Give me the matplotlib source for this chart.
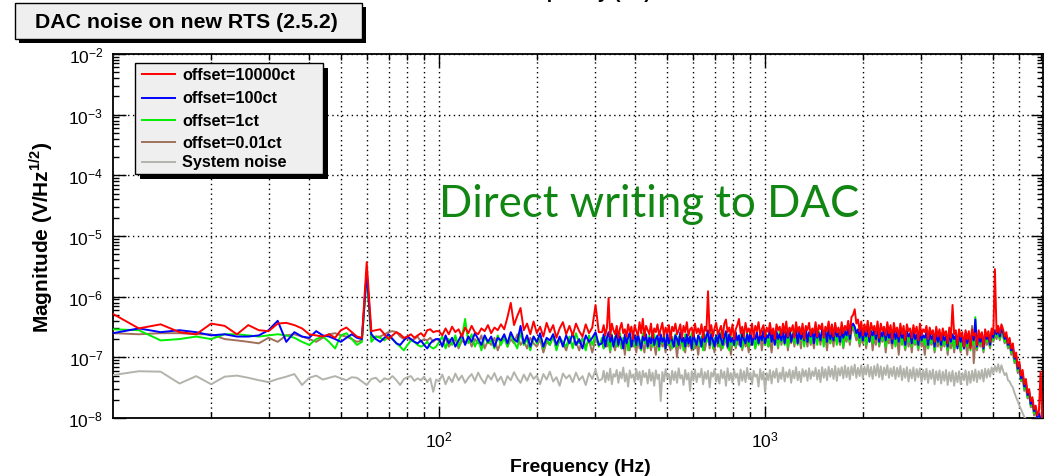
import numpy as np
import matplotlib
matplotlib.use('Agg')
import matplotlib.pyplot as plt
from matplotlib.patches import Rectangle
from matplotlib.lines import Line2D
from matplotlib.ticker import LogLocator, NullFormatter, FixedLocator

plt.rcParams['font.family'] = ['Liberation Sans', 'DejaVu Sans']
plt.rcParams['mathtext.fontset'] = 'custom'
plt.rcParams['mathtext.rm'] = 'Liberation Sans'
plt.rcParams['mathtext.bf'] = 'Liberation Sans:bold'
plt.rcParams['axes.unicode_minus'] = False

# frequency bins: 2 Hz below 100 Hz, 0.01 decade to ~310 Hz, 0.005 decade up to ~7 kHz
freq_low = np.arange(10, 100, 2)
freq_mid = np.logspace(2, 2.49, 50)
freq_high = np.logspace(2.5, 3.85, 271)
freq = np.concatenate([freq_low, freq_mid, freq_high])

# magnitudes (colored traces in 1e-7 V/rtHz, system noise in 1e-8)
red_low = [5.2, 3.0, 3.5, 2.6, 2.4, 3.6, 3.3, 2.4, 3.4, 2.8, 2.7, 3.6, 3.7, 3.4, 3.0,
           2.4, 2.3, 2.2, 2.4, 2.1, 2.8, 3.1, 2.6, 2.2, 2.1, 37, 2.7, 2.8, 2.9, 2.4,
           2.0, 2.3, 2.6, 2.4, 2.1, 2.2, 2.4, 2.1, 2.3, 2.5, 2.2, 2.8, 2.9, 2.6, 2.7]
red_mid = [2.7, 2.3, 3.0, 2.4, 3.2, 2.6, 2.9, 2.2, 3.1, 2.5,
           3.3, 2.6, 2.4, 3.0, 2.7, 3.4, 2.5, 3.1, 2.8, 3.5,
           2.9, 4.6, 7.9, 3.4, 4.8, 6.5, 2.8, 3.6, 2.4, 3.9,
           2.5, 3.2, 2.2, 3.7, 2.6, 3.4, 2.1, 3.0, 3.8, 2.4,
           3.3, 2.3, 3.6, 2.7, 2.2, 3.5, 2.5, 3.1, 7.3, 2.6]
red_high = [2.6, 3.4, 2.3, 3.1, 9.5, 2.2, 3.6, 2.8, 2.4, 3.3,
            2.1, 3.0, 3.7, 2.5, 2.9, 2.2, 3.5, 2.6, 3.2, 2.0,
            3.4, 2.7, 2.3, 3.8, 2.5, 4.3, 2.2, 3.3, 2.8, 2.4,
            3.6, 2.1, 3.0, 2.6, 3.5, 2.3, 2.9, 3.7, 2.2, 3.1,
            2.5, 3.4, 2.0, 3.2, 2.7, 3.6, 2.4, 2.8, 3.5, 2.1,
            3.3, 2.6, 3.8, 2.3, 2.9, 3.1, 2.2, 3.6, 2.5, 3.0,
            2.4, 3.5, 2.1, 3.2, 2.7, 12.3, 2.5, 3.4, 2.2, 3.0,
            3.7, 2.4, 2.8, 3.3, 2.1, 3.6, 4.2, 2.6, 3.1, 2.3,
            3.5, 2.0, 2.9, 3.4, 4.3, 2.5, 3.2, 2.2, 3.7, 2.6,
            3.0, 2.4, 3.6, 2.1, 3.3, 2.7, 3.8, 2.3, 2.9, 3.4,
            2.2, 3.1, 2.6, 3.7, 2.4, 3.0, 2.0, 3.5, 2.8, 3.2,
            2.3, 3.6, 2.5, 3.9, 2.2, 3.1, 2.7, 3.4, 2.1, 3.8,
            2.6, 3.2, 2.4, 3.6, 2.0, 3.3, 2.8, 3.7, 2.3, 3.0,
            2.5, 3.8, 2.2, 3.4, 2.9, 3.6, 2.1, 3.2, 2.7, 3.9,
            2.4, 3.5, 2.2, 3.7, 2.6, 3.1, 2.3, 3.8, 2.5, 3.3,
            2.8, 4.0, 2.4, 4.6, 5.0, 6.2, 3.6, 4.2, 2.7, 3.9,
            2.3, 3.5, 2.6, 4.0, 2.2, 3.7, 2.8, 3.3, 2.4, 3.9,
            2.1, 3.6, 2.7, 3.2, 2.3, 3.8, 2.5, 3.4, 2.0, 3.7,
            2.6, 3.1, 2.2, 3.6, 2.4, 3.3, 1.9, 3.5, 2.7, 3.0,
            2.1, 3.4, 2.5, 3.2, 1.9, 3.6, 2.3, 2.9, 2.6, 3.3,
            2.0, 3.1, 2.4, 2.8, 1.8, 3.2, 2.2, 2.9, 1.9, 3.0,
            2.3, 2.7, 1.7, 3.1, 2.1, 7.3, 2.4, 2.8, 1.6, 2.9,
            2.2, 2.6, 1.5, 2.8, 2.0, 2.7, 1.4, 2.9, 2.3, 2.5,
            1.6, 2.8, 2.1, 2.6, 1.5, 2.9, 2.2, 2.7, 1.8, 3.0,
            2.4, 28.5, 2.6, 3.3, 2.5, 3.5, 2.9, 2.2, 2.6, 1.7,
            2.1, 1.4, 1.7, 1.0, 1.2, 0.7, 0.85, 0.5, 0.62, 0.36,
            0.44, 0.26, 0.3, 0.19, 0.22, 0.14, 0.16, 0.11, 0.13, 0.58,
            0.09]

blue_low = [2.5, 3.0, 2.6, 2.8, 2.6, 2.3, 2.4, 2.2, 2.2, 2.3, 2.8, 4.0, 1.8, 2.6, 2.2,
            2.1, 2.7, 2.3, 2.2, 2.0, 1.8, 2.1, 2.4, 2.1, 2.0, 25, 2.4, 2.0, 1.8, 2.1,
            2.4, 2.0, 1.7, 1.6, 1.9, 2.2, 2.0, 1.8, 1.7, 1.9, 1.6, 1.4, 1.7, 1.9, 2.0]
blue_mid = [2.0, 1.5, 2.3, 1.7, 2.1, 1.5, 1.9, 2.4, 1.6, 2.2,
            1.8, 2.5, 2.0, 1.6, 2.3, 1.8, 2.2, 1.5, 2.1, 1.9,
            2.4, 1.7, 2.6, 2.0, 1.8, 3.3, 1.7, 2.3, 1.5, 2.2,
            1.8, 2.5, 1.5, 2.1, 1.9, 2.4, 1.6, 2.2, 1.5, 2.3,
            1.7, 2.5, 1.6, 2.0, 1.4, 2.3, 1.8, 2.1, 2.6, 1.6]
blue_high = [1.7, 2.4, 1.5, 2.1, 2.6, 1.8, 2.3, 1.5, 2.0, 2.5,
             1.6, 2.2, 1.9, 1.4, 2.4, 1.7, 2.1, 2.6, 1.5, 2.0,
             2.3, 1.6, 2.5, 1.8, 1.4, 2.2, 1.9, 2.4, 1.5, 2.1,
             1.7, 2.6, 1.6, 2.0, 2.3, 1.5, 2.4, 1.8, 2.1, 1.4,
             2.5, 1.7, 2.2, 1.9, 1.5, 2.3, 2.0, 1.6, 2.6, 1.8,
             2.1, 1.5, 2.4, 1.7, 2.2, 1.4, 2.5, 1.9, 1.6, 2.3,
             2.0, 1.5, 2.6, 1.8, 2.2, 2.8, 1.6, 2.4, 1.9, 1.5,
             2.3, 1.7, 2.5, 2.0, 1.6, 2.2, 2.7, 1.5, 2.4, 1.8,
             2.1, 1.6, 2.6, 1.9, 2.3, 1.5, 2.5, 2.0, 1.7, 2.4,
             1.8, 2.7, 1.6, 2.2, 2.0, 2.6, 1.7, 2.4, 1.9, 2.8,
             1.7, 2.3, 2.1, 2.9, 1.8, 2.5, 1.6, 2.7, 2.0, 2.4,
             1.9, 2.8, 1.7, 2.6, 2.1, 3.0, 1.8, 2.4, 2.2, 2.9,
             1.7, 2.7, 2.0, 2.5, 1.9, 3.1, 1.8, 2.6, 2.2, 2.8,
             1.7, 3.0, 2.1, 2.5, 1.9, 2.9, 2.3, 2.7, 1.8, 3.1,
             2.0, 2.6, 1.9, 3.0, 2.2, 2.5, 1.8, 2.9, 2.1, 2.7,
             2.3, 3.1, 2.0, 3.3, 3.6, 3.2, 2.5, 2.9, 2.1, 3.0,
             1.9, 2.8, 2.2, 3.1, 1.8, 2.7, 2.3, 2.9, 2.0, 3.2,
             1.8, 2.6, 2.2, 3.0, 1.9, 2.8, 2.1, 2.5, 1.7, 2.9,
             2.0, 2.6, 1.8, 2.8, 2.1, 2.4, 1.6, 2.7, 2.2, 2.5,
             1.7, 2.8, 2.0, 2.4, 1.6, 2.7, 1.9, 2.3, 2.1, 2.6,
             1.6, 2.5, 2.0, 2.3, 1.5, 2.6, 1.8, 2.4, 1.6, 2.5,
             1.9, 2.2, 1.5, 2.6, 1.8, 2.4, 2.0, 2.3, 1.4, 2.5,
             1.8, 2.2, 1.4, 2.5, 1.7, 2.3, 1.5, 2.6, 1.9, 4.2,
             1.5, 2.4, 1.8, 2.2, 1.4, 2.6, 2.0, 2.3, 1.6, 2.7,
             2.1, 2.8, 2.4, 3.0, 2.2, 2.9, 2.6, 2.0, 2.3, 1.6,
             1.9, 1.3, 1.5, 0.95, 1.05, 0.65, 0.75, 0.45, 0.55, 0.33,
             0.38, 0.24, 0.27, 0.17, 0.2, 0.13, 0.15, 0.1, 0.12, 0.095,
             0.085]

green_low = [2.9, 2.8, 1.9, 2.0, 2.2, 2.0, 2.4, 2.4, 2.3, 2.2, 2.3, 2.4, 2.3, 2.1, 1.8,
             1.6, 2.0, 2.2, 1.8, 1.4, 2.3, 2.5, 2.0, 1.6, 1.8, 24, 1.8, 2.2, 2.1, 1.9,
             2.2, 2.0, 1.7, 1.5, 1.3, 1.6, 1.9, 1.8, 1.6, 1.5, 1.6, 1.8, 1.5, 1.4, 1.5]
green_mid = [1.8, 2.2, 1.4, 2.0, 1.6, 2.3, 1.5, 2.1, 4.3, 1.7,
             2.4, 1.5, 2.0, 1.3, 2.2, 1.7, 1.9, 1.4, 2.3, 1.6,
             2.1, 1.5, 2.4, 1.8, 1.4, 2.6, 1.6, 2.0, 1.3, 2.2,
             1.7, 2.3, 1.4, 2.0, 1.6, 2.4, 1.3, 2.1, 1.8, 1.5,
             2.2, 1.4, 2.5, 1.7, 2.0, 1.3, 2.3, 1.6, 2.4, 1.5]
green_high = [2.1, 1.4, 2.3, 1.7, 2.0, 1.3, 2.4, 1.6, 2.2, 1.5,
              1.9, 2.5, 1.4, 2.1, 1.7, 2.3, 1.3, 2.0, 1.8, 2.4,
              1.5, 2.2, 1.6, 2.0, 1.3, 2.5, 1.7, 2.1, 1.4, 2.3,
              1.8, 1.5, 2.4, 1.6, 2.0, 1.3, 2.2, 1.7, 2.5, 1.4,
              2.1, 1.6, 2.3, 1.4, 1.9, 2.4, 1.5, 2.2, 1.7, 2.0,
              1.3, 2.4, 1.6, 2.1, 1.8, 2.5, 1.4, 2.0, 1.7, 2.3,
              1.5, 2.2, 1.3, 2.4, 1.8, 2.0, 1.6, 2.5, 1.4, 2.1,
              1.7, 2.3, 1.5, 2.6, 1.4, 2.0, 1.8, 2.4, 1.3, 2.2,
              1.6, 2.5, 1.5, 2.1, 1.9, 2.4, 1.4, 2.2, 1.7, 2.6,
              1.5, 2.3, 1.8, 2.0, 1.4, 2.5, 1.6, 2.2, 1.9, 2.7,
              1.6, 2.4, 1.5, 2.1, 2.0, 2.6, 1.7, 2.3, 1.5, 2.8,
              1.8, 2.4, 1.6, 2.7, 1.5, 2.2, 2.0, 2.6, 1.7, 2.5,
              1.6, 2.8, 1.9, 2.3, 1.5, 2.6, 2.0, 2.4, 1.7, 2.9,
              1.8, 2.5, 1.6, 2.7, 2.1, 2.4, 1.5, 2.8, 1.9, 2.6,
              1.7, 2.9, 2.0, 2.4, 1.6, 2.7, 1.8, 2.5, 1.5, 2.8,
              2.0, 2.6, 1.8, 3.0, 3.3, 2.8, 2.2, 2.6, 1.7, 2.5,
              2.0, 2.7, 1.6, 2.4, 1.9, 2.8, 1.7, 2.5, 2.1, 2.6,
              1.6, 2.4, 1.9, 2.7, 1.5, 2.3, 2.0, 2.6, 1.7, 2.5,
              1.5, 2.3, 1.9, 2.6, 1.6, 2.4, 1.4, 2.2, 1.8, 2.5,
              1.5, 2.4, 1.7, 2.1, 1.4, 2.5, 1.8, 2.2, 1.6, 2.3,
              1.4, 2.2, 1.7, 2.4, 1.3, 2.1, 1.8, 2.3, 1.5, 2.2,
              1.6, 2.4, 1.3, 2.0, 1.7, 2.3, 1.4, 2.1, 1.6, 2.2,
              1.3, 2.0, 1.7, 2.3, 1.5, 2.1, 1.3, 2.4, 1.6, 4.6,
              1.4, 2.2, 1.7, 2.0, 1.3, 2.4, 1.8, 2.1, 1.5, 2.5,
              1.9, 2.6, 2.2, 2.8, 2.0, 2.7, 2.4, 1.8, 2.1, 1.5,
              1.7, 1.2, 1.35, 0.85, 0.95, 0.6, 0.7, 0.42, 0.5, 0.3,
              0.35, 0.22, 0.25, 0.16, 0.18, 0.12, 0.14, 0.095, 0.11, 0.085,
              0.08]

brown_low = [2.5, 2.4, 2.5, 2.5, 2.4, 2.4, 2.0, 1.9, 1.8, 1.7, 2.1, 1.8, 2.3, 2.4, 2.2,
             2.0, 1.8, 2.1, 2.4, 2.5, 2.3, 2.2, 2.0, 1.8, 1.9, 24, 2.1, 2.2, 2.2, 2.4,
             2.6, 2.7, 2.6, 2.2, 2.0, 2.1, 1.9, 2.0, 2.2, 1.8, 2.0, 1.9, 2.1, 1.8, 2.0]
brown_mid = [1.9, 1.6, 2.1, 1.5, 1.8, 2.0, 1.4, 1.9, 1.7, 2.2,
             1.5, 2.0, 1.7, 2.3, 1.4, 1.9, 1.6, 2.1, 1.3, 1.8,
             2.2, 1.5, 2.0, 1.7, 2.4, 1.6, 1.9, 1.4, 2.1, 1.7,
             1.5, 2.0, 1.2, 1.8, 1.6, 2.2, 1.4, 1.9, 1.7, 1.3,
             2.0, 1.6, 1.8, 1.3, 2.1, 1.5, 1.9, 1.2, 2.0, 1.6]
brown_high = [1.8, 1.4, 2.0, 1.5, 1.9, 1.2, 2.1, 1.6, 1.3, 1.9,
              1.5, 2.2, 1.4, 1.8, 1.1, 2.0, 1.6, 1.3, 2.1, 1.5,
              1.7, 1.2, 2.0, 1.4, 1.9, 1.6, 1.2, 2.2, 1.5, 1.8,
              1.3, 2.0, 1.6, 1.1, 1.9, 1.4, 2.1, 1.5, 1.7, 1.2,
              2.0, 1.6, 1.3, 2.2, 1.5, 1.8, 1.0, 1.9, 1.4, 2.1,
              1.6, 1.2, 2.0, 1.5, 1.8, 1.3, 2.2, 1.4, 1.7, 1.1,
              1.9, 1.5, 2.1, 1.3, 1.8, 2.4, 1.4, 2.0, 1.6, 1.2,
              2.1, 1.5, 1.8, 1.3, 2.0, 1.6, 2.2, 1.4, 1.9, 1.1,
              1.7, 2.1, 1.4, 1.9, 1.6, 2.3, 1.3, 2.0, 1.5, 1.8,
              1.2, 2.2, 1.6, 1.9, 1.4, 2.1, 1.7, 2.4, 1.3, 2.0,
              1.6, 2.3, 1.5, 1.9, 1.2, 2.2, 1.7, 2.0, 1.4, 2.5,
              1.6, 2.1, 1.8, 2.4, 1.3, 2.0, 1.7, 2.3, 1.5, 2.6,
              1.7, 2.2, 1.4, 2.5, 1.8, 2.0, 1.5, 2.4, 1.6, 2.1,
              1.4, 2.6, 1.8, 2.2, 1.6, 2.5, 1.9, 2.1, 1.3, 2.4,
              1.7, 2.3, 1.5, 2.6, 1.8, 2.0, 1.6, 2.5, 1.4, 2.2,
              1.8, 2.4, 1.6, 2.7, 3.0, 2.5, 1.9, 2.3, 1.5, 2.2,
              1.7, 2.5, 1.4, 2.1, 1.8, 2.4, 1.3, 2.2, 1.6, 2.6,
              1.5, 2.1, 1.8, 2.4, 1.2, 2.2, 1.7, 2.0, 1.4, 2.3,
              1.6, 2.1, 1.1, 2.3, 1.7, 1.9, 1.3, 2.2, 1.5, 2.0,
              1.2, 2.1, 1.6, 1.9, 1.3, 2.2, 1.5, 1.8, 1.1, 2.0,
              1.4, 1.9, 1.6, 2.1, 1.2, 1.8, 1.5, 2.0, 1.3, 1.9,
              1.5, 2.1, 1.1, 1.8, 1.4, 2.0, 1.2, 1.9, 1.5, 1.7,
              1.2, 2.0, 1.4, 1.8, 1.1, 1.9, 1.5, 3.3, 0.8, 1.8,
              1.3, 2.0, 1.5, 1.7, 1.2, 2.1, 1.6, 1.9, 1.4, 2.2,
              1.8, 2.4, 2.0, 2.6, 1.9, 2.5, 2.2, 1.7, 2.0, 1.4,
              1.6, 1.1, 1.25, 0.8, 0.9, 0.55, 0.65, 0.4, 0.47, 0.28,
              0.33, 0.21, 0.24, 0.15, 0.17, 0.11, 0.13, 0.09, 0.1, 0.08,
              0.075]

gray_low = [5.1, 5.9, 5.8, 3.7, 4.9, 3.6, 4.8, 5.0, 4.6, 4.2, 3.9, 4.4, 4.8, 5.3, 3.5,
            4.6, 5.0, 4.3, 4.6, 4.9, 4.5, 4.2, 4.7, 4.6, 4.0, 3.5, 4.4, 4.6, 3.9, 4.5,
            4.3, 4.9, 4.2, 3.5, 4.4, 4.7, 4.9, 4.1, 4.5, 4.2, 4.8, 3.9, 4.5, 2.7, 4.3]
gray_mid = [4.0, 5.2, 3.6, 4.8, 3.9, 5.4, 4.2, 5.0, 3.8, 4.6,
            5.3, 4.1, 5.6, 4.4, 3.7, 5.1, 4.3, 5.5, 4.0, 4.8,
            3.5, 4.9, 4.2, 5.7, 4.5, 3.8, 5.2, 4.1, 5.5, 4.4,
            5.0, 3.6, 5.3, 4.3, 5.8, 4.0, 4.7, 3.4, 5.4, 4.5,
            5.1, 3.9, 5.6, 4.2, 4.9, 3.5, 5.5, 4.4, 6.2, 4.1]
gray_high = [4.4, 6.0, 3.9, 5.6, 4.2, 6.5, 3.6, 5.3, 4.8, 6.2,
             3.8, 5.7, 4.5, 6.8, 4.0, 5.4, 3.3, 6.1, 4.6, 5.2,
             3.9, 6.4, 4.3, 5.8, 3.5, 6.0, 4.7, 5.5, 3.7, 6.3,
             4.1, 5.6, 3.4, 6.1, 4.4, 5.2, 1.9, 5.7, 4.0, 6.4,
             4.6, 5.3, 3.6, 6.0, 4.2, 5.8, 3.8, 6.6, 4.5, 5.1,
             3.5, 6.2, 4.3, 5.5, 2.8, 5.9, 4.1, 6.3, 3.9, 5.4,
             4.7, 6.5, 3.6, 5.7, 4.4, 6.0, 3.2, 5.6, 4.8, 6.4,
             4.0, 5.3, 3.7, 6.2, 4.5, 5.8, 3.4, 6.6, 4.2, 5.5,
             3.8, 6.1, 4.6, 5.4, 3.5, 6.3, 4.1, 5.9, 3.9, 6.7,
             4.4, 5.6, 3.6, 6.0, 4.8, 5.2, 3.3, 6.4, 4.3, 5.8,
             2.7, 5.5, 4.2, 6.2, 3.7, 5.9, 4.6, 6.5, 3.9, 5.6,
             4.4, 6.8, 4.0, 5.7, 4.7, 6.3, 3.8, 6.0, 4.5, 6.9,
             4.2, 5.8, 3.9, 6.4, 4.8, 6.1, 4.1, 6.6, 4.4, 5.9,
             4.9, 6.7, 4.3, 6.2, 3.9, 6.9, 4.6, 6.4, 4.2, 7.0,
             4.8, 6.5, 4.4, 7.2, 4.1, 6.6, 5.0, 6.9, 4.5, 7.3,
             4.7, 6.8, 4.3, 7.1, 5.1, 7.6, 4.6, 6.7, 4.9, 7.4,
             4.5, 7.0, 5.2, 7.5, 4.8, 6.9, 4.4, 7.2, 5.0, 7.7,
             4.7, 7.1, 4.3, 6.8, 5.1, 7.4, 4.6, 6.6, 4.9, 7.0,
             4.4, 6.7, 4.8, 7.2, 4.2, 6.5, 4.6, 6.9, 4.0, 6.3,
             4.5, 6.8, 4.1, 6.4, 4.7, 6.6, 3.9, 6.2, 4.3, 6.5,
             3.8, 6.0, 4.4, 6.3, 3.6, 5.9, 4.2, 6.1, 3.7, 5.8,
             4.1, 6.2, 3.5, 5.7, 4.0, 6.0, 3.4, 5.6, 3.9, 5.9,
             3.6, 5.5, 4.2, 6.1, 3.5, 5.8, 3.8, 6.0, 4.1, 6.3,
             3.9, 5.9, 4.4, 6.2, 4.0, 6.5, 4.6, 6.4, 4.8, 6.8,
             5.4, 7.2, 5.8, 7.7, 5.6, 7.4, 6.0, 5.1, 5.5, 4.2,
             4.0, 3.5, 3.2, 2.6, 2.2, 1.9, 1.6, 1.4, 1.2, 1.05,
             0.95, 0.85, 0.8, 0.7, 0.6, 0.55, 0.5, 0.45, 0.4, 0.37,
             0.35]

labels = ['offset=10000ct', 'offset=100ct', 'offset=1ct', 'offset=0.01ct', 'System noise']
colors = ['#ff0000', '#0000ff', '#00ee00', '#a0705c', '#b2b4ac']

red = np.array(red_low + red_mid + red_high) * 1e-7
blue = np.array(blue_low + blue_mid + blue_high) * 1e-7
green = np.array(green_low + green_mid + green_high) * 1e-7
brown = np.array(brown_low + brown_mid + brown_high) * 1e-7
gray = np.array(gray_low + gray_mid + gray_high) * 1e-8
series = [red, blue, green, brown, gray]

W, H = 1048, 477
fig = plt.figure(figsize=(W / 100, H / 100), dpi=100)
ax = fig.add_axes([113 / W, 1 - 419 / H, 930 / W, 364 / H])

# draw system noise first, red last (on top)
for i in [4, 3, 2, 1, 0]:
    ax.plot(freq, series[i], color=colors[i], lw=1.4, zorder=3 + (4 - i))

ax.set_xscale('log')
ax.set_yscale('log')
ax.set_xlim(10, 7120)
ax.set_ylim(1e-8, 1e-2)

ax.xaxis.set_major_locator(FixedLocator([100, 1000]))
ax.xaxis.set_minor_locator(LogLocator(base=10, subs=np.arange(2, 10), numticks=20))
ax.xaxis.set_minor_formatter(NullFormatter())
ax.yaxis.set_major_locator(LogLocator(base=10, numticks=10))
ax.yaxis.set_minor_locator(LogLocator(base=10, subs=np.arange(2, 10), numticks=20))
ax.yaxis.set_minor_formatter(NullFormatter())

ax.tick_params(which='both', direction='in', top=True, right=True, width=1.0, labelsize=12.5)
ax.tick_params(which='major', length=9)
ax.tick_params(which='minor', length=4.5)
ax.tick_params(axis='y', pad=7)
ax.tick_params(axis='x', pad=8)
for s in ax.spines.values():
    s.set_linewidth(1.3)

ax.grid(which='both', axis='x', color='black', linestyle=(0, (1, 2.5)), lw=1.0, zorder=1)
ax.grid(which='major', axis='y', color='black', linestyle=(0, (1, 2.5)), lw=1.0, zorder=1)
ax.set_axisbelow(True)


def fx(x):
    return x / W


def fy(y):
    return 1 - y / H


# axis titles
fig.text(fx(580), fy(472), 'Frequency (Hz)', ha='center', va='baseline',
         fontsize=14, fontweight='bold')
fig.text(fx(41), fy(237), r'Magnitude (V/Hz$^{\mathbf{1/2}}$)', rotation=90,
         ha='center', va='center', fontsize=15, fontweight='bold')

# cut-off title of the panel above
fig.text(fx(580), fy(-2), 'Frequency (Hz)', ha='center', va='baseline',
         fontsize=14, fontweight='bold')

# annotation
ax.text(0.5762, 1 - (217 - 55) / 364, 'Direct writing to DAC', transform=ax.transAxes,
        ha='center', va='baseline', fontsize=31.5, color='#128612', family='Lato', zorder=10)

# title box
fig.add_artist(Rectangle((fx(19), fy(44)), (362 - 15) / W, 36 / H, transform=fig.transFigure,
                         facecolor='black', edgecolor='black', lw=0, zorder=5))
fig.add_artist(Rectangle((fx(15), fy(40)), (362 - 15) / W, 36 / H, transform=fig.transFigure,
                         facecolor='#efefef', edgecolor='black', lw=1.0, zorder=6))
fig.text(fx(186), fy(23), 'DAC noise on new RTS (2.5.2)', ha='center', va='center',
         fontsize=15.3, fontweight='bold', zorder=7)

# legend box
fig.add_artist(Rectangle((fx(140), fy(180)), (323 - 135) / W, (175 - 64) / H, transform=fig.transFigure,
                         facecolor='black', edgecolor='black', lw=0, zorder=5))
fig.add_artist(Rectangle((fx(135), fy(175)), (323 - 135) / W, (175 - 64) / H, transform=fig.transFigure,
                         facecolor='#efefef', edgecolor='black', lw=1.0, zorder=6))
entry_y = [75, 99, 121, 143, 163]
for lab, col, yy in zip(labels, colors, entry_y):
    fig.add_artist(Line2D([fx(142), fx(175)], [fy(yy), fy(yy)], transform=fig.transFigure,
                          color=col, lw=1.4, zorder=7))
    fig.text(fx(182), fy(yy), lab, ha='left', va='center', fontsize=11.7,
             fontweight='bold', zorder=7)

fig.savefig('out.png', dpi=100)
